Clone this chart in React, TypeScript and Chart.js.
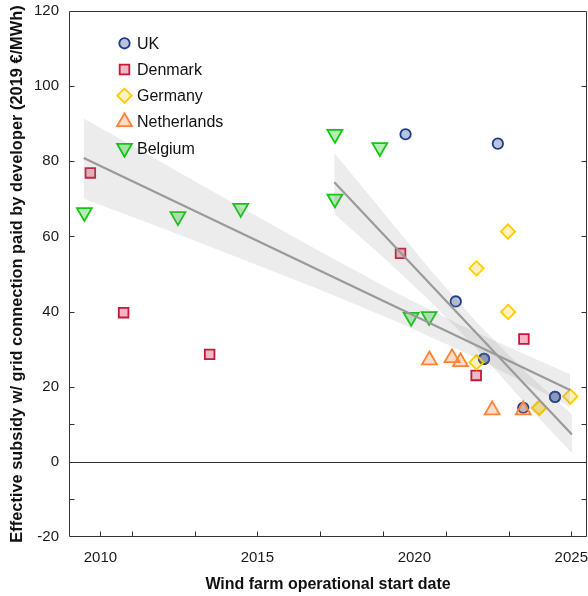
import React, { useEffect, useRef } from 'react';
import { Chart, registerables } from 'chart.js';
import { drawPoint } from 'chart.js/helpers';

Chart.register(...registerables);

// ---- data ----
const ukX = [2019.72, 2022.66, 2021.32, 2022.22, 2022.22, 2023.47, 2024.48, 2024.48];
const ukY = [87.2, 84.7, 42.7, 27.4, 27.4, 14.4, 17.3, 17.3];

const dkX = [2009.68, 2010.74, 2013.48, 2019.56, 2023.49, 2021.97];
const dkY = [76.9, 39.7, 28.6, 55.5, 32.7, 23.0];

const deX = [2022.98, 2021.98, 2022.99, 2021.98, 2023.98, 2023.98, 2024.97];
const deY = [61.3, 51.5, 39.9, 26.5, 14.4, 14.4, 17.4];

const nlX = [2020.48, 2021.2, 2021.47, 2022.48, 2023.47];
const nlY = [27.1, 27.7, 26.6, 13.8, 13.8];

const beX = [2009.49, 2012.47, 2014.47, 2017.47, 2017.47, 2018.9, 2019.9, 2020.47];
const beY = [66.4, 65.3, 67.5, 87.2, 70.0, 83.7, 38.5, 38.7];

// regression lines
const fit1X = [2009.47, 2024.96];
const fit1Y = [80.9, 19.1];
const band1X = [2009.47, 2012, 2014.5, 2017, 2019.5, 2021.5, 2023.5, 2024.96];
const band1Upper = [91.4, 79.5, 67.6, 56.0, 44.7, 36.3, 28.7, 23.3];
const band1Lower = [70.0, 62.1, 54.0, 45.8, 37.1, 29.5, 21.1, 14.6];

const fit2X = [2017.45, 2025.02];
const fit2Y = [74.4, 7.3];
const band2X = [2017.45, 2019, 2020.5, 2022, 2023.5, 2025.02];
const band2Upper = [82.2, 66.5, 51.2, 37.0, 24.3, 12.6];
const band2Lower = [66.0, 54.5, 42.8, 30.0, 15.8, 2.3];

// axes
const xTickLabels = [2010, 2015, 2020, 2025];
const xTickMarks = [2010, 2011, 2013, 2015, 2017, 2019, 2021, 2023, 2025];
const yTickLabels = [-20, 0, 20, 40, 60, 80, 100, 120];
const yTickMarks = [100, 80, 60, 40, 20, 10, 0, -10];

const xTitle = 'Wind farm operational start date';
const yTitle = 'Effective subsidy w/ grid connection paid by developer (2019 €/MWh)';

const FONT = 'Liberation Sans, Arial, Helvetica, sans-serif';

const pts = (xs: number[], ys: number[]) => xs.map((x, i) => ({ x, y: ys[i] }));

const frameAndTicks = {
  id: 'frameAndTicks',
  beforeDatasetsDraw(chart: any) {
    const { ctx, chartArea: a, scales } = chart;
    const y0 = scales.y.getPixelForValue(0);
    ctx.save();
    ctx.strokeStyle = '#333';
    ctx.lineWidth = 1;
    ctx.beginPath();
    ctx.moveTo(a.left, Math.round(y0) + 0.5);
    ctx.lineTo(a.right, Math.round(y0) + 0.5);
    ctx.stroke();
    ctx.restore();
  },
  afterDatasetsDraw(chart: any) {
    const { ctx, chartArea: a, scales } = chart;
    ctx.save();
    ctx.strokeStyle = '#333';
    ctx.lineWidth = 1;
    const L = Math.round(a.left) + 0.5;
    const R = Math.round(a.right) - 0.5;
    const T = Math.round(a.top) + 0.5;
    const B = Math.round(a.bottom) - 0.5;
    ctx.beginPath();
    ctx.rect(L, T, R - L, B - T);
    const tl = 5;
    xTickMarks.forEach((v) => {
      const px = Math.round(scales.x.getPixelForValue(v)) + 0.5;
      ctx.moveTo(px, B);
      ctx.lineTo(px, B - tl);
    });
    yTickMarks.forEach((v) => {
      const py = Math.round(scales.y.getPixelForValue(v)) + 0.5;
      ctx.moveTo(L, py);
      ctx.lineTo(L + tl, py);
      ctx.moveTo(R, py);
      ctx.lineTo(R - tl, py);
    });
    ctx.stroke();
    ctx.restore();
  },
};

const legendInside = {
  id: 'legendInside',
  afterDraw(chart: any) {
    const { ctx, chartArea: a } = chart;
    const items = chart.data.datasets.filter((d: any) => d.legendLabel);
    ctx.save();
    items.forEach((d: any, i: number) => {
      const mx = a.left + 55.5;
      const my = 43.3 + i * 26.2;
      ctx.fillStyle = d.backgroundColor;
      ctx.strokeStyle = d.borderColor;
      ctx.lineWidth = d.borderWidth;
      drawPoint(ctx, { pointStyle: d.pointStyle, rotation: d.rotation || 0, radius: d.pointRadius, borderWidth: d.borderWidth }, mx, my);
      ctx.fillStyle = '#111';
      ctx.font = `16px ${FONT}`;
      ctx.textBaseline = 'middle';
      ctx.textAlign = 'left';
      ctx.fillText(d.legendLabel, a.left + 68, my + 1);
    });
    ctx.restore();
  },
};

export default function App() {
  const ref = useRef<HTMLCanvasElement | null>(null);
  useEffect(() => {
    document.body.style.margin = '0';
    document.body.style.overflow = 'hidden';
    const canvas = ref.current;
    if (!canvas) return;
    const bandColor = 'rgba(140,140,140,0.17)';
    const lineColor = '#9a9a9a';
    const pointDS = (label: string, data: any[], style: string, radius: number, stroke: string, fill: string, order: number, rotation = 0) => ({
      legendLabel: label,
      label,
      data,
      pointStyle: style,
      rotation,
      pointRotation: rotation,
      pointRadius: radius,
      pointHoverRadius: radius,
      borderColor: stroke,
      backgroundColor: fill,
      pointBorderColor: stroke,
      pointBackgroundColor: fill,
      borderWidth: 1.8,
      pointBorderWidth: 1.8,
      showLine: false,
      order,
    });
    const chart = new Chart(canvas, {
      type: 'scatter',
      data: {
        datasets: [
          pointDS('UK', pts(ukX, ukY), 'circle', 5.2, '#1b3a8c', 'rgba(27,58,140,0.3)', 6),
          pointDS('Denmark', pts(dkX, dkY), 'rect', 6.8, '#c8163c', 'rgba(200,22,60,0.3)', 5),
          pointDS('Germany', pts(deX, deY), 'rectRot', 7.2, '#ffcc00', 'rgba(255,204,0,0.25)', 4),
          pointDS('Netherlands', pts(nlX, nlY), 'triangle', 8.6, '#ff8236', 'rgba(255,130,54,0.28)', 2),
          pointDS('Belgium', pts(beX, beY), 'triangle', 8.6, '#0fc80f', 'rgba(15,200,15,0.3)', 3, 180),
          {
            data: pts(band1X, band1Upper), showLine: true, pointRadius: 0, borderWidth: 0,
            borderColor: 'rgba(0,0,0,0)', backgroundColor: bandColor, fill: '+1', order: 1,
          } as any,
          {
            data: pts(band1X, band1Lower), showLine: true, pointRadius: 0, borderWidth: 0,
            borderColor: 'rgba(0,0,0,0)', fill: false, order: 1,
          } as any,
          {
            data: pts(band2X, band2Upper), showLine: true, pointRadius: 0, borderWidth: 0,
            borderColor: 'rgba(0,0,0,0)', backgroundColor: bandColor, fill: '+1', order: 1,
          } as any,
          {
            data: pts(band2X, band2Lower), showLine: true, pointRadius: 0, borderWidth: 0,
            borderColor: 'rgba(0,0,0,0)', fill: false, order: 1,
          } as any,
          {
            data: pts(fit1X, fit1Y), showLine: true, pointRadius: 0, borderWidth: 2.2,
            borderColor: lineColor, fill: false, order: 0,
          } as any,
          {
            data: pts(fit2X, fit2Y), showLine: true, pointRadius: 0, borderWidth: 2.2,
            borderColor: lineColor, fill: false, order: 0,
          } as any,
        ],
      },
      options: {
        animation: false,
        responsive: true,
        maintainAspectRatio: false,
        events: [],
        layout: { autoPadding: false, padding: { top: 11, right: 1, left: 0, bottom: 0 } },
        plugins: { legend: { display: false }, tooltip: { enabled: false } },
        scales: {
          x: {
            type: 'linear',
            position: 'bottom',
            min: 2009,
            max: 2025.5,
            grid: { display: false, drawTicks: false },
            border: { display: false },
            afterBuildTicks: (s: any) => { s.ticks = xTickLabels.map((v) => ({ value: v })); },
            afterFit: (s: any) => { s.height = 59; s.paddingLeft = 0; s.paddingRight = 0; },
            ticks: {
              color: '#1a1a1a',
              font: { family: FONT, size: 15 },
              padding: 12,
              maxRotation: 0,
              autoSkip: false,
              callback: (v: any) => String(v),
            },
            title: {
              display: true,
              text: xTitle,
              color: '#111',
              font: { family: FONT, size: 16, weight: 'bold' },
              padding: { top: 0, bottom: 2 },
            },
          },
          y: {
            type: 'linear',
            min: -20,
            max: 120,
            grid: { display: false, drawTicks: false },
            border: { display: false },
            afterBuildTicks: (s: any) => { s.ticks = yTickLabels.map((v) => ({ value: v })); },
            afterFit: (s: any) => { s.width = 69; s.paddingTop = 0; s.paddingBottom = 0; },
            ticks: {
              color: '#1a1a1a',
              font: { family: FONT, size: 15 },
              padding: 10,
              autoSkip: false,
            },
            title: {
              display: true,
              text: yTitle,
              color: '#111',
              font: { family: FONT, size: 16.4, weight: 'bold' },
              padding: { top: 8, bottom: 0 },
            },
          },
        },
      } as any,
      plugins: [frameAndTicks, legendInside],
    });
    return () => chart.destroy();
  }, []);
  return (
    <div style={{ width: 588, height: 596, position: 'relative', background: '#fff' }}>
      <canvas ref={ref} />
    </div>
  );
}
